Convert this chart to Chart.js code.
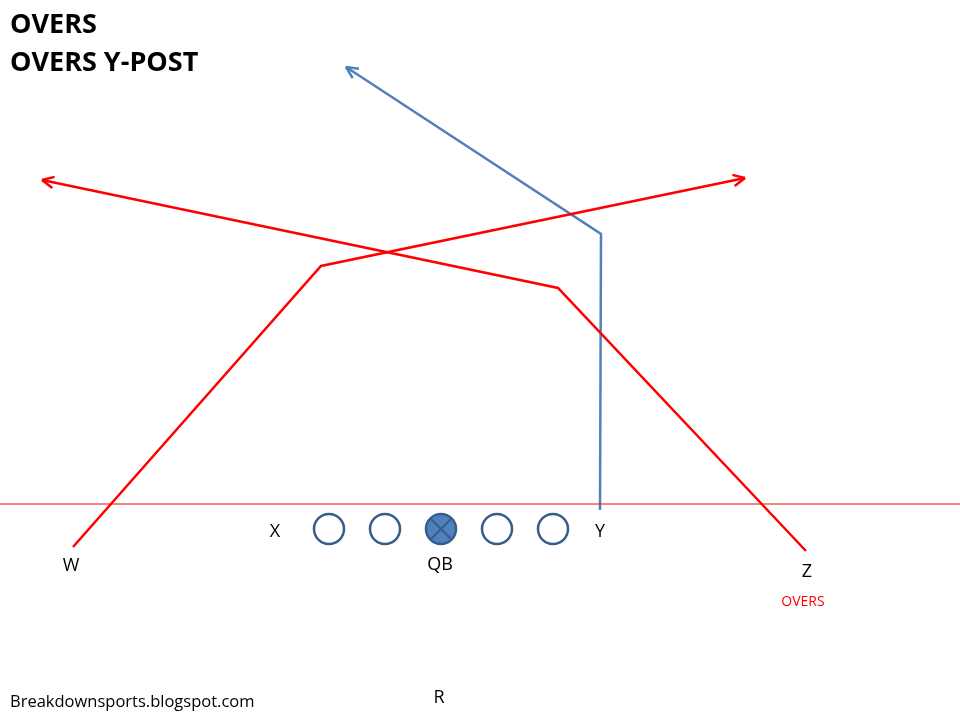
<!DOCTYPE html>
<html>
<head>
<meta charset="utf-8">
<script src="https://cdn.jsdelivr.net/npm/chart.js@4/dist/chart.umd.min.js"></script>
<style>
  html, body { margin: 0; padding: 0; background: #fff; }
  #wrap { width: 960px; height: 720px; }
</style>
</head>
<body>
<div id="wrap"><canvas id="play"></canvas></div>
<script>
// field coordinates (0..960 across, 0..720 down)
const titles = ["OVERS", "OVERS Y-POST"];
const wRoute = [{x: 73, y: 547}, {x: 321, y: 266}, {x: 745, y: 178}];
const zRoute = [{x: 806, y: 551}, {x: 558, y: 288}, {x: 42, y: 180}];
const yRoute = [{x: 600, y: 510}, {x: 601, y: 234}, {x: 346, y: 67}];
const scrimmage = [{x: 0, y: 504}, {x: 960, y: 504}];
const linemen = [{x: 329, y: 529}, {x: 385, y: 529}, {x: 497, y: 529}, {x: 553, y: 529}];
const qb = [{x: 441, y: 529}];
const labels = [
  {text: "X", x: 275, y: 532},
  {text: "Y", x: 600, y: 532},
  {text: "W", x: 71, y: 566},
  {text: "QB", x: 440, y: 565},
  {text: "Z", x: 807, y: 572},
  {text: "R", x: 439, y: 698}
];
const tagLabel = {text: "OVERS", x: 803, y: 602};
const credit = {text: "Breakdownsports.blogspot.com", x: 10, y: 702};

const RED = "#ff0000";
const BLUE = "#4f81bd";
const DARK = "#385d8a";

const arrowPlugin = {
  id: "arrows",
  afterDatasetsDraw(chart) {
    const ctx = chart.ctx;
    const sx = chart.scales.x, sy = chart.scales.y;
    chart.data.datasets.forEach(ds => {
      if (!ds.arrow) return;
      const n = ds.data.length;
      const a = ds.data[n - 2], b = ds.data[n - 1];
      const x1 = sx.getPixelForValue(a.x), y1 = sy.getPixelForValue(a.y);
      const x2 = sx.getPixelForValue(b.x), y2 = sy.getPixelForValue(b.y);
      const ang = Math.atan2(y2 - y1, x2 - x1);
      ctx.save();
      ctx.strokeStyle = ds.borderColor;
      ctx.lineWidth = ds.borderWidth;
      ctx.beginPath();
      [0.45, -0.45].forEach(d => {
        ctx.moveTo(x2, y2);
        ctx.lineTo(x2 - 13 * Math.cos(ang + d), y2 - 13 * Math.sin(ang + d));
      });
      ctx.stroke();
      ctx.restore();
    });
    // QB cross
    const qx = sx.getPixelForValue(qb[0].x), qy = sy.getPixelForValue(qb[0].y);
    ctx.save();
    ctx.strokeStyle = DARK;
    ctx.lineWidth = 2;
    ctx.beginPath();
    const r = 11;
    ctx.moveTo(qx - r, qy - r); ctx.lineTo(qx + r, qy + r);
    ctx.moveTo(qx + r, qy - r); ctx.lineTo(qx - r, qy + r);
    ctx.stroke();
    ctx.restore();
  },
  afterDraw(chart) {
    const ctx = chart.ctx;
    const sx = chart.scales.x, sy = chart.scales.y;
    ctx.save();
    ctx.textBaseline = "middle";
    ctx.fillStyle = "#000";
    ctx.font = "bold 27px 'Open Sans', 'Liberation Sans', sans-serif";
    ctx.textAlign = "left";
    titles.forEach((t, i) => ctx.fillText(t, 10, 25 + i * 38));
    ctx.font = "18px 'Open Sans', 'Liberation Sans', sans-serif";
    ctx.textAlign = "center";
    labels.forEach(l => ctx.fillText(l.text, sx.getPixelForValue(l.x), sy.getPixelForValue(l.y)));
    ctx.fillStyle = RED;
    ctx.font = "14px 'Open Sans', 'Liberation Sans', sans-serif";
    ctx.fillText(tagLabel.text, sx.getPixelForValue(tagLabel.x), sy.getPixelForValue(tagLabel.y));
    ctx.fillStyle = "#000";
    ctx.font = "16.5px 'Open Sans', 'Liberation Sans', sans-serif";
    ctx.textAlign = "left";
    ctx.fillText(credit.text, sx.getPixelForValue(credit.x), sy.getPixelForValue(credit.y));
    ctx.restore();
  }
};

function route(data, color) {
  return {type: "line", data, borderColor: color, borderWidth: 2.5, pointRadius: 0,
    fill: false, tension: 0, arrow: true};
}

new Chart(document.getElementById("play"), {
  type: "scatter",
  data: {
    datasets: [
      {type: "line", data: scrimmage, borderColor: RED, borderWidth: 1, pointRadius: 0, fill: false},
      route(wRoute, RED),
      route(zRoute, RED),
      route(yRoute, BLUE),
      {data: linemen, pointRadius: 15, pointBorderWidth: 2.5, pointBorderColor: DARK,
        pointBackgroundColor: "#ffffff", pointHoverRadius: 15},
      {data: qb, pointRadius: 15, pointBorderWidth: 2.5, pointBorderColor: DARK,
        pointBackgroundColor: BLUE, pointHoverRadius: 15}
    ]
  },
  options: {
    responsive: true,
    maintainAspectRatio: false,
    animation: false,
    layout: {padding: 0, autoPadding: false},
    plugins: {legend: {display: false}, tooltip: {enabled: false}},
    scales: {
      x: {type: "linear", min: 0, max: 960, display: false},
      y: {type: "linear", min: 0, max: 720, reverse: true, display: false}
    }
  },
  plugins: [arrowPlugin]
});
</script>
</body>
</html>
